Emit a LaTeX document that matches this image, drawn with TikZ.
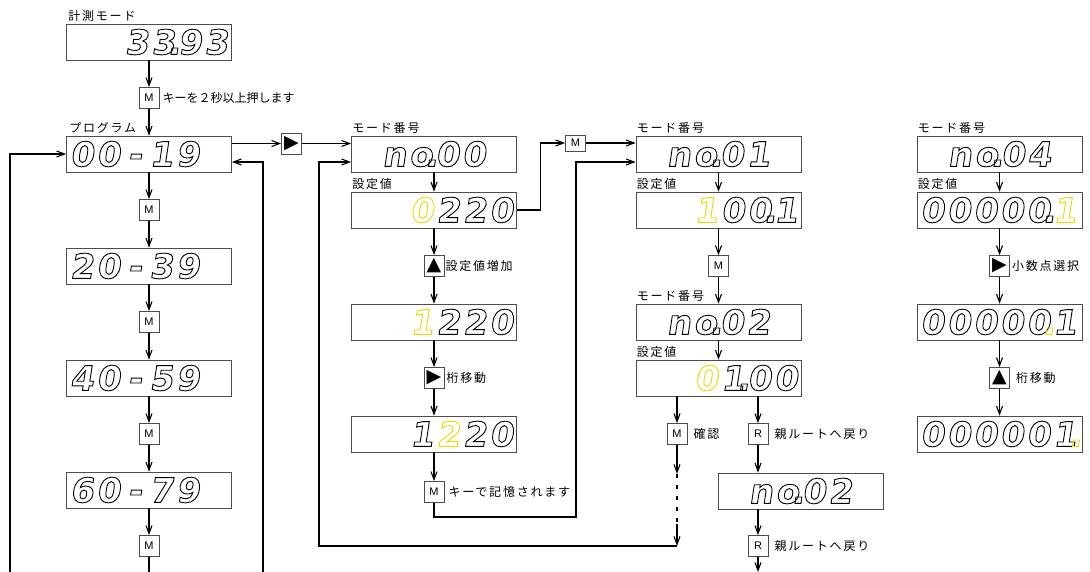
\documentclass[tikz,border=0pt]{standalone}
\usepackage{fontspec}
\usetikzlibrary{arrows.meta}

\setmainfont{Noto Sans CJK JP}[LetterSpace=15]
\newfontfamily\tightfont{Noto Sans CJK JP}
\newfontfamily\keyfont{Liberation Sans}
\newfontfamily\segfont{DejaVu Sans Bold}[FakeSlant=0.15]
\newfontfamily\symfont{DejaVu Sans}

\definecolor{hl}{RGB}{230,218,0}
\newcommand\hl[1]{\textcolor{hl}{#1}}

% seven segment style display text: one cell per token, "." and "," (yellow) are decimal points
\newlength\segw
\setlength\segw{26.5pt}
\makeatletter
\def\sg@dot{.}
\def\sg@hdot{,}
\def\sg@put{%
  \ifx\sg@c\sg@dot\makebox[0pt][l]{\kern-9pt.}%
  \else\ifx\sg@c\sg@hdot\makebox[0pt][l]{\kern-9pt\hl{.}}%
  \else\makebox[\segw][c]{\sg@c}\fi\fi}
\newcommand\segs[1]{\special{pdf:literal direct 1 Tr 0.9 w}%
  \@tfor\sg@c:=#1\do{\sg@put}\special{pdf:literal direct 0 Tr}}
\makeatother

\tikzset{
  disp/.style={draw=black!70, line width=0.7pt, minimum width=165pt, minimum height=36pt,
    inner sep=0pt, text width=161pt, font=\segfont\fontsize{34}{34}\selectfont},
  dispr/.style={disp, align=right},
  displ/.style={disp, align=left},
  dispc/.style={disp, align=center},
  key/.style={draw=black!70, line width=0.7pt, fill=white, minimum width=20pt, minimum height=21pt,
    inner sep=0pt, font=\keyfont\fontsize{11}{11}\selectfont},
  tri/.style={key, font=\symfont\fontsize{19}{19}\selectfont},
  lbl/.style={font=\fontsize{12}{12}\selectfont, inner sep=0pt, anchor=south west},
  note/.style={font=\fontsize{12}{12}\selectfont, inner sep=0pt, anchor=west},
  flow/.style={line width=1.1pt, -{Straight Barb[length=8pt,width=6pt]}},
  wire/.style={line width=1.1pt},
}

\begin{document}
\begin{tikzpicture}[x=1pt, y=-1pt]
    \useasboundingbox (0,0) rectangle (1090,572);

    % Measurement mode
    \node[dispr] (meas) at (149,42) {\segs{33.93}};
    \node[lbl] (measlbl) at ([xshift=2pt,yshift=2pt]meas.north west) {計測モード};
    \node[key] (m0) at (149,98) {M};
    \node[note, font=\tightfont\fontsize{12}{12}\selectfont] (m0txt) at ([xshift=3pt]m0.east) {キーを２秒以上押します};

    % Program ranges
    \node[displ] (prog0) at (149,154) {\segs{00-19}};
    \node[lbl] (proglbl) at ([xshift=3pt,yshift=2pt]prog0.north west) {プログラム};
    \node[key] (k1) at (149,210) {M};
    \node[displ] (prog1) at (149,266) {\segs{20-39}};
    \node[key] (k2) at (149,322) {M};
    \node[displ] (prog2) at (149,378) {\segs{40-59}};
    \node[key] (k3) at (149,434) {M};
    \node[displ] (prog3) at (149,490) {\segs{60-79}};
    \node[key] (k4) at (149,546) {M};
    \coordinate (cbot) at (149,572);
    \coordinate (lbot) at (10,572);
    \coordinate (rbot) at (263,572);
    \node[tri] (rt0) at (291.5,143.5) {▶};

    % Mode no.00
    \node[dispc] (mode0) at (434,154) {\segs{no.00}};
    \node[lbl] (mode0lbl) at ([xshift=1pt,yshift=2pt]mode0.north west) {モード番号};
    \node[dispr] (set0) at (434,210) {\segs{{\hl0}220}};
    \node[lbl] (set0lbl) at ([xshift=1pt,yshift=2pt]set0.north west) {設定値};
    \node[tri] (up0) at (434,266) {▲};
    \node[note] (up0txt) at ([xshift=1pt]up0.east) {設定値増加};
    \node[dispr] (b1) at (434,322) {\segs{{\hl1}220}};
    \node[tri] (rt1) at (434,378) {▶};
    \node[note] (rt1txt) at ([xshift=2pt]rt1.east) {桁移動};
    \node[dispr] (b2) at (434,434) {\segs{1{\hl2}20}};
    \node[key] (sv0) at (434,492) {M};
    \node[note] (sv0txt) at ([xshift=4pt]sv0.east) {キーで記憶されます};
    \coordinate (bend1) at (576,517);

    % Mode no.01 / no.02
    \node[key, minimum height=16pt] (mm) at (575.5,143) {M};
    \node[dispc] (mode1) at (718.5,154) {\segs{no.01}};
    \node[lbl] (mode1lbl) at ([xshift=1pt,yshift=2pt]mode1.north west) {モード番号};
    \node[dispr] (set1) at (718.5,210) {\segs{{\hl1}00.1}};
    \node[lbl] (set1lbl) at ([xshift=1pt,yshift=2pt]set1.north west) {設定値};
    \node[key] (k5) at (718.5,266) {M};
    \node[dispc] (mode2) at (718.5,322) {\segs{no.02}};
    \node[lbl] (mode2lbl) at ([xshift=1pt,yshift=2pt]mode2.north west) {モード番号};
    \node[dispr] (set2) at (718.5,378) {\segs{{\hl0}1.00}};
    \node[lbl] (set2lbl) at ([xshift=1pt,yshift=2pt]set2.north west) {設定値};
    \node[key] (mc) at (677,434) {M};
    \node[note] (mctxt) at ([xshift=6pt]mc.east) {確認};
    \node[key] (rr) at (758,434) {R};
    \node[note] (rrtxt) at ([xshift=6pt]rr.east) {親ルートへ戻り};
    \node[dispc] (nb) at (800.5,491) {\segs{no.02}};
    \node[key] (rr2) at (758,546) {R};
    \node[note] (rr2txt) at ([xshift=6pt]rr2.east) {親ルートへ戻り};
    \coordinate (mcA) at (677,474);
    \coordinate (mcB) at (677,524);
    \coordinate (dash) at (677,546);
    \coordinate (lp) at (319,546);
    \coordinate (rend) at (758,572);

    % Mode no.04
    \node[dispc] (mode4) at (999.5,154) {\segs{no.04}};
    \node[lbl] (mode4lbl) at ([xshift=1pt,yshift=2pt]mode4.north west) {モード番号};
    \node[displ] (set4) at (999.5,210) {\segs{00000.{\hl1}}};
    \node[lbl] (set4lbl) at ([xshift=1pt,yshift=2pt]set4.north west) {設定値};
    \node[tri] (rt4) at (999.5,266) {▶};
    \node[note] (rt4txt) at ([xshift=2pt]rt4.east) {小数点選択};
    \node[displ] (b4a) at (999.5,322) {\segs{00000,1}};
    \node[tri] (up4) at (999.5,378) {▲};
    \node[note] (up4txt) at ([xshift=6pt]up4.east) {桁移動};
    \node[displ] (b4b) at (999.5,434) {\segs{000001,}};

    % Arrows, program chain
    \draw[flow] (meas) -- (m0);
    \draw[flow] (m0) -- (prog0);
    \draw[flow] (prog0) -- (k1);
    \draw[flow] (k1) -- (prog1);
    \draw[flow] (prog1) -- (k2);
    \draw[flow] (k2) -- (prog2);
    \draw[flow] (prog2) -- (k3);
    \draw[flow] (k3) -- (prog3);
    \draw[flow] (prog3) -- (k4);
    \draw[wire] (k4) -- (cbot);
    \draw[flow] (lbot) |- (prog0.west);
    \draw[flow] (rbot) |- ([yshift=-8pt]prog0.east);
    \draw[flow] (rt0 -| prog0.east) -- (rt0);
    \draw[flow] (rt0) -- (rt0 -| mode0.west);

    % Arrows, no.00
    \draw[flow] (mode0) -- (set0);
    \draw[flow] (set0) -- (up0);
    \draw[flow] (up0) -- (b1);
    \draw[flow] (b1) -- (rt1);
    \draw[flow] (rt1) -- (b2);
    \draw[flow] (b2) -- (sv0);
    \draw[flow] (sv0.south) |- (bend1) |- ([yshift=-8pt]mode1.west);
    \draw[flow] (set0.east) -- ++(24,0) |- (mm);
    \draw[flow] (mm) -- (mm -| mode1.west);

    % Arrows, no.01 / no.02
    \draw[flow] (mode1) -- (set1);
    \draw[flow] (set1) -- (k5);
    \draw[flow] (k5) -- (mode2);
    \draw[flow] (mode2) -- (set2);
    \draw[flow] (mc |- set2.south) -- (mc);
    \draw[flow] (rr |- set2.south) -- (rr);
    \draw[flow] (mc) -- (mcA);
    \draw[wire, dash pattern=on 4pt off 7pt] (mcA) -- (mcB);
    \draw[flow] (mcB) -- (dash);
    \draw[flow] (dash) -- (lp) |- ([yshift=-8pt]mode0.west);
    \draw[flow] (rr) -- (rr |- nb.north);
    \draw[flow] (rr2 |- nb.south) -- (rr2);
    \draw[flow] (rr2) -- (rend);

    % Arrows, no.04
    \draw[flow] (mode4) -- (set4);
    \draw[flow] (set4) -- (rt4);
    \draw[flow] (rt4) -- (b4a);
    \draw[flow] (b4a) -- (up4);
    \draw[flow] (up4) -- (b4b);
\end{tikzpicture}
\end{document}
